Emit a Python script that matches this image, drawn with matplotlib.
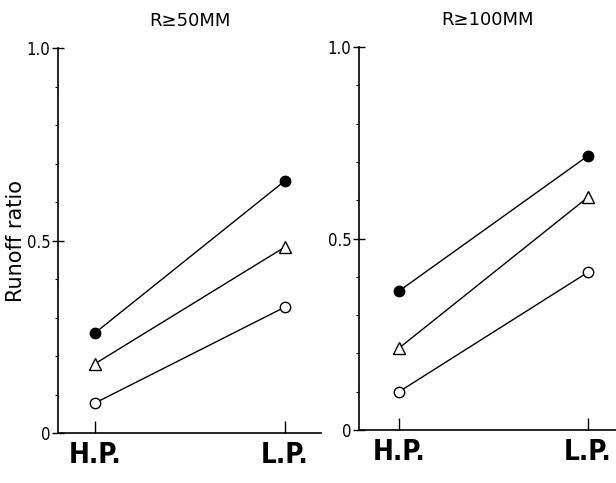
import matplotlib.pyplot as plt
from matplotlib.ticker import MultipleLocator

# data
periods = ['H.P.', 'L.P.']
titles = ['R\u226550MM', 'R\u2265100MM']
filled_vals = [[0.26, 0.655], [0.363, 0.716]]
triangle_vals = [[0.18, 0.483], [0.214, 0.608]]
open_vals = [[0.078, 0.327], [0.10, 0.412]]

plt.rcParams['font.family'] = ['DejaVu Sans']

fig = plt.figure(figsize=(6.16, 4.83), dpi=100)
ax1 = fig.add_axes([0.0942, 0.1035, 0.4268, 0.7971])
ax2 = fig.add_axes([0.5828, 0.1097, 0.4172, 0.7930])
xlims = [(-0.195, 1.19), (-0.212, 1.148)]

x = list(range(len(periods)))
for i, ax in enumerate([ax1, ax2]):
    ax.plot(x, filled_vals[i], color='black', lw=1.0, marker='o', ms=7.5,
            mfc='black', mec='black', zorder=3)
    ax.plot(x, triangle_vals[i], color='black', lw=1.0, marker='^', ms=8.5,
            mfc='white', mec='black', mew=1.0, zorder=3)
    ax.plot(x, open_vals[i], color='black', lw=1.0, marker='o', ms=7.5,
            mfc='white', mec='black', mew=1.0, zorder=3)

    ax.set_ylim(0, 1.0)
    ax.set_xlim(*xlims[i])
    ax.spines['top'].set_visible(False)
    ax.spines['right'].set_visible(False)
    ax.spines['left'].set_linewidth(1.2)
    ax.spines['bottom'].set_linewidth(1.2)

    ax.set_yticks([0, 0.5, 1.0])
    ax.set_yticklabels(['0', '0.5', '1.0'], fontsize=12, stretch='condensed')
    ax.yaxis.set_minor_locator(MultipleLocator(0.1))
    ax.tick_params(axis='y', which='major', direction='inout', length=9, width=1.0, pad=1)
    ax.tick_params(axis='y', which='minor', direction='out', length=2.5, width=0.8)

    ax.set_xticks(x)
    ax.set_xticklabels(periods, fontsize=20, stretch='condensed', weight='bold')
    ax.tick_params(axis='x', direction='in', length=9, width=1.0, pad=6)

    ax.set_title(titles[i], fontsize=13, pad=16)

ax1.set_ylabel('Runoff ratio', fontsize=15)
ax1.yaxis.set_label_coords(-0.12, 0.5)

plt.savefig('out.png', dpi=100)
